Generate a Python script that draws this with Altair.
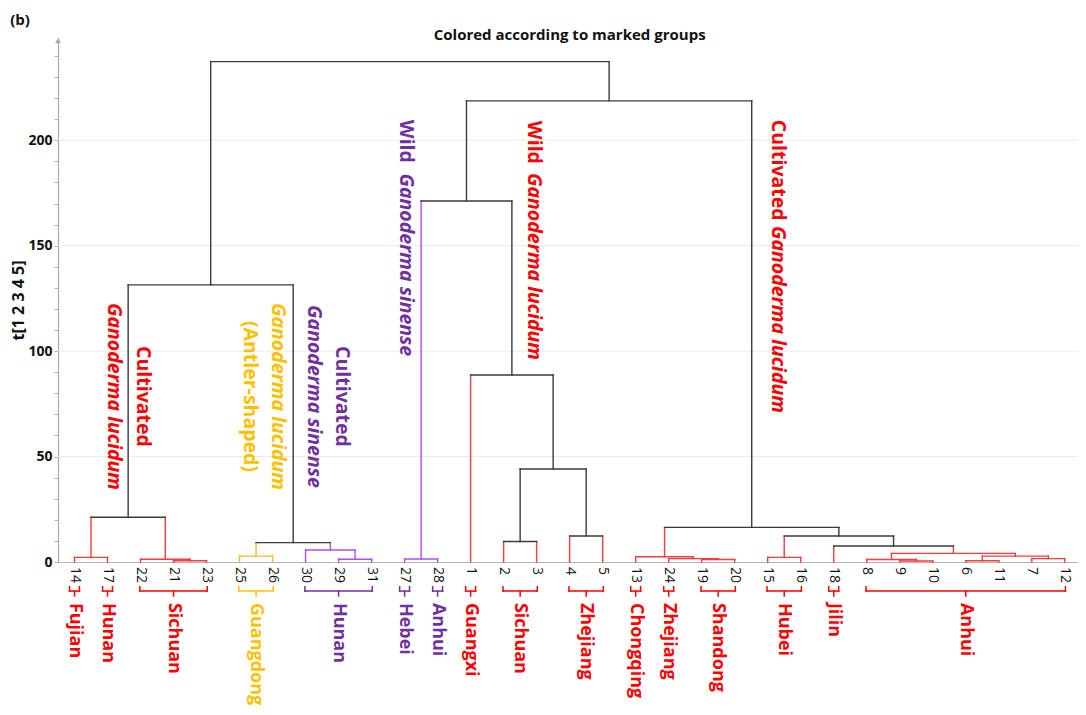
import altair as alt
import pandas as pd

# ---------------- data ----------------
leaves = ["14", "17", "22", "21", "23", "25", "26", "30", "29", "31", "27", "28",
          "1", "2", "3", "4", "5", "13", "24", "19", "20", "15", "16", "18",
          "8", "9", "10", "6", "11", "7", "12"]
leaf_class = ["r", "r", "r", "r", "r", "y", "y", "p", "p", "p", "p", "p",
              "r", "r", "r", "r", "r", "r", "r", "r", "r", "r", "r", "r",
              "r", "r", "r", "r", "r", "r", "r"]

# merges: children are leaf positions (0..30) or earlier merges (31..)
merge_left = [0, 3, 2, 31, 5, 8, 7, 35, 34, 10, 13, 15, 41, 12, 40,
              19, 18, 17, 21, 25, 24, 27, 29, 52, 51, 23, 49, 48, 45, 39]
merge_right = [1, 4, 32, 33, 6, 9, 36, 37, 38, 11, 14, 16, 42, 43, 44,
               20, 46, 47, 22, 26, 50, 28, 30, 53, 54, 55, 56, 57, 58, 59]
merge_height = [2.2, 0.6, 1.3, 21.2, 2.8, 1.3, 5.7, 9.2, 131.4, 1.4, 9.7, 12.3, 44.1, 88.7, 171.2,
                1.2, 1.6, 2.5, 2.2, 0.5, 1.2, 0.6, 1.6, 2.8, 4.1, 7.6, 12.3, 16.4, 218.7, 237.3]
merge_class = ["r", "r", "r", "k", "y", "p", "p", "k", "k", "p", "k", "k", "k", "k", "k",
               "r", "r", "r", "r", "r", "r", "r", "r", "r", "r", "k", "k", "k", "k", "k"]

group_names = ["Fujian", "Hunan", "Sichuan", "Guangdong", "Hunan", "Hebei", "Anhui", "Guangxi",
               "Sichuan", "Zhejiang", "Chongqing", "Zhejiang", "Shandong", "Hubei", "Jilin", "Anhui"]
group_first = [0, 1, 2, 5, 7, 10, 11, 12, 13, 15, 17, 18, 19, 21, 23, 24]
group_last = [0, 1, 4, 6, 9, 10, 11, 12, 14, 16, 17, 18, 20, 22, 23, 30]
group_class = ["r", "r", "r", "y", "p", "p", "p", "r", "r", "r", "r", "r", "r", "r", "r", "r"]

y_ticks = list(range(0, 250, 10))
grid_values = [50, 100, 150, 200]

# annotations (text, class, x in leaf units, y in t units, align, italic)
ann_text = ["Cultivated", "Ganoderma lucidum", "Ganoderma lucidum", "(Antler-shaped)",
            "Cultivated", "Ganoderma sinense", "Wild", "Ganoderma sinense",
            "Wild", "Ganoderma lucidum", "Cultivated", "Ganoderma lucidum"]
ann_class = ["r", "r", "y", "y", "p", "p", "p", "p", "r", "r", "r", "r"]
ann_x = [2.06, 1.21, 6.16, 5.31, 8.11, 7.26, 10.04, 10.04, 13.91, 13.91, 21.3, 21.3]
ann_y = [78.5, 78.5, 78.5, 78.5, 78.5, 78.5, 209.7, 97.6, 209.2, 95.8, 209.7, 70.7]
ann_align = ["center", "center", "center", "center", "center", "center",
             "left", "right", "left", "right", "left", "right"]
ann_italic = [False, True, True, False, False, True, False, True, False, True, False, True]

# ---------------- build tables ----------------
node_x = [float(i) for i in range(len(leaves))]
node_h = [0.0] * len(leaves)
node_c = list(leaf_class)
seg_rows = []
for a, b, h, c in zip(merge_left, merge_right, merge_height, merge_class):
    for ch in (a, b):
        seg_rows.append({"x": node_x[ch], "x2": node_x[ch], "y": node_h[ch], "y2": h, "c": node_c[ch]})
    seg_rows.append({"x": node_x[a], "x2": node_x[b], "y": h, "y2": h, "c": c})
    node_x.append((node_x[a] + node_x[b]) / 2)
    node_h.append(h)
    node_c.append(c)
seg_df = pd.DataFrame(seg_rows)

Y_BRACKET = -13.8
Y_BRACKET_TOP = -11.7
Y_BRACKET_TIP = -16.1
Y_GROUP_TEXT = -19.4
Y_LEAF_TEXT = -2.4
X_MAX = 30.4

br_rows = []
grp_rows = []
for name, f, l, c in zip(group_names, group_first, group_last, group_class):
    pad = 0.15 if f == l else 0.02
    x0, x1 = f - pad, l + pad
    xm = (f + l) / 2
    tc = "t" + c
    br_rows += [
        {"x": x0, "x2": x1, "y": Y_BRACKET, "y2": Y_BRACKET, "c": tc},
        {"x": x0, "x2": x0, "y": Y_BRACKET, "y2": Y_BRACKET_TOP, "c": tc},
        {"x": x1, "x2": x1, "y": Y_BRACKET, "y2": Y_BRACKET_TOP, "c": tc},
        {"x": xm, "x2": xm, "y": Y_BRACKET, "y2": Y_BRACKET_TIP, "c": tc},
    ]
    grp_rows.append({"x": xm, "y": Y_GROUP_TEXT, "t": name, "c": tc})
br_df = pd.DataFrame(br_rows)
grp_df = pd.DataFrame(grp_rows)

leaf_df = pd.DataFrame({"x": list(range(len(leaves))), "y": [Y_LEAF_TEXT] * len(leaves), "t": leaves})
grid_df = pd.DataFrame({"x": [-0.5] * 4, "x2": [X_MAX] * 4, "y": grid_values})
ann_df = pd.DataFrame({"t": ann_text, "c": ["t" + c for c in ann_class], "x": ann_x, "y": ann_y,
                       "al": ann_align, "it": ann_italic})

# ---------------- scales / encodings ----------------
FONT = "Open Sans"
x_scale = alt.Scale(domain=[-0.5, X_MAX], nice=False, zero=False)
y_scale = alt.Scale(domain=[0, 248.5], nice=False, zero=False)
x_axis = alt.Axis(domain=True, domainColor="#b4b4b4", domainWidth=1.2, ticks=False, labels=False,
                  grid=False, title=None)
y_axis = alt.Axis(values=y_ticks, labelExpr="datum.value % 50 === 0 ? datum.label : ''",
                  tickSize=4, tickColor="#b4b4b4", domainColor="#a8a8a8", domainWidth=1.2,
                  grid=False, labelFont=FONT, labelFontSize=14, labelFontWeight="bold",
                  labelColor="#111111", labelPadding=2,
                  title="t[1 2 3 4 5]", titleFont=FONT, titleFontSize=16, titleFontWeight="bold",
                  titleColor="#111111", titleX=-40, titleY=262, titleAngle=270,
                  titleBaseline="middle")

color_scale = alt.Scale(
    domain=["r", "y", "p", "k", "tr", "ty", "tp"],
    range=["#FF3A3A", "#FDB72B", "#B04DF2", "#3A3A3A", "#FF0000", "#FFC000", "#7030A0"],
)


def X(f):
    return alt.X(f, type="quantitative", scale=x_scale, axis=x_axis)


def Y(f):
    return alt.Y(f, type="quantitative", scale=y_scale, axis=y_axis)


C = alt.Color("c:N", scale=color_scale, legend=None)

grid = alt.Chart(grid_df).mark_rule(color="#ebebeb", strokeWidth=1).encode(
    x=X("x"), x2="x2", y=Y("y"))

segments = alt.Chart(seg_df).mark_rule(strokeWidth=1.4, strokeCap="square").encode(
    x=X("x"), x2="x2", y=Y("y"), y2="y2", color=C)

brackets = alt.Chart(br_df).mark_rule(strokeWidth=1.5, strokeCap="square").encode(
    x=X("x"), x2="x2", y=Y("y"), y2="y2", color=C)

leaf_text = alt.Chart(leaf_df).mark_text(angle=90, align="left", baseline="middle",
                                          font=FONT, fontSize=14, color="#111111").encode(
    x=X("x"), y=Y("y"), text="t:N")

group_text = alt.Chart(grp_df).mark_text(angle=90, align="left", baseline="middle",
                                          font=FONT, fontSize=18, fontWeight="bold").encode(
    x=X("x"), y=Y("y"), text="t:N", color=C)

ann_layers = []
for al in ["center", "left", "right"]:
    for it in [False, True]:
        sub = ann_df[(ann_df["al"] == al) & (ann_df["it"] == it)][["t", "c", "x", "y"]]
        if len(sub) == 0:
            continue
        ann_layers.append(
            alt.Chart(sub).mark_text(angle=90, align=al, baseline="middle", font=FONT,
                                     fontSize=19.5, fontWeight="bold",
                                     fontStyle="italic" if it else "normal").encode(
                x=X("x"), y=Y("y"), text="t:N", color=C)
        )

arrow = alt.Chart(pd.DataFrame({"x": [-0.5], "y": [247.2]})).mark_point(
    shape="triangle-up", filled=True, size=35, color="#a8a8a8", opacity=1).encode(
    x=X("x"), y=Y("y"))

title = alt.Chart(pd.DataFrame({"x": [15.0], "y": [250.0], "t": ["Colored according to marked groups"]})).mark_text(
    align="center", baseline="middle", font=FONT, fontSize=15, fontWeight="bold", color="#111111").encode(
    x=X("x"), y=Y("y"), text="t:N")

panel = alt.Chart(pd.DataFrame({"x": [-1.95], "y": [257.2], "t": ["(b)"]})).mark_text(
    align="left", baseline="middle", font=FONT, fontSize=15, fontWeight="bold", color="#111111").encode(
    x=X("x"), y=Y("y"), text="t:N")

chart = alt.layer(grid, segments, brackets, leaf_text, group_text, *ann_layers, arrow, title, panel).properties(
    width=1020, height=524,
    autosize=alt.AutoSizeParams(type="none"),
    padding={"left": 50, "top": 30, "right": 0, "bottom": 145},
).configure_view(stroke=None)

chart.save("out.html", embed_options={"renderer": "svg", "actions": False})
